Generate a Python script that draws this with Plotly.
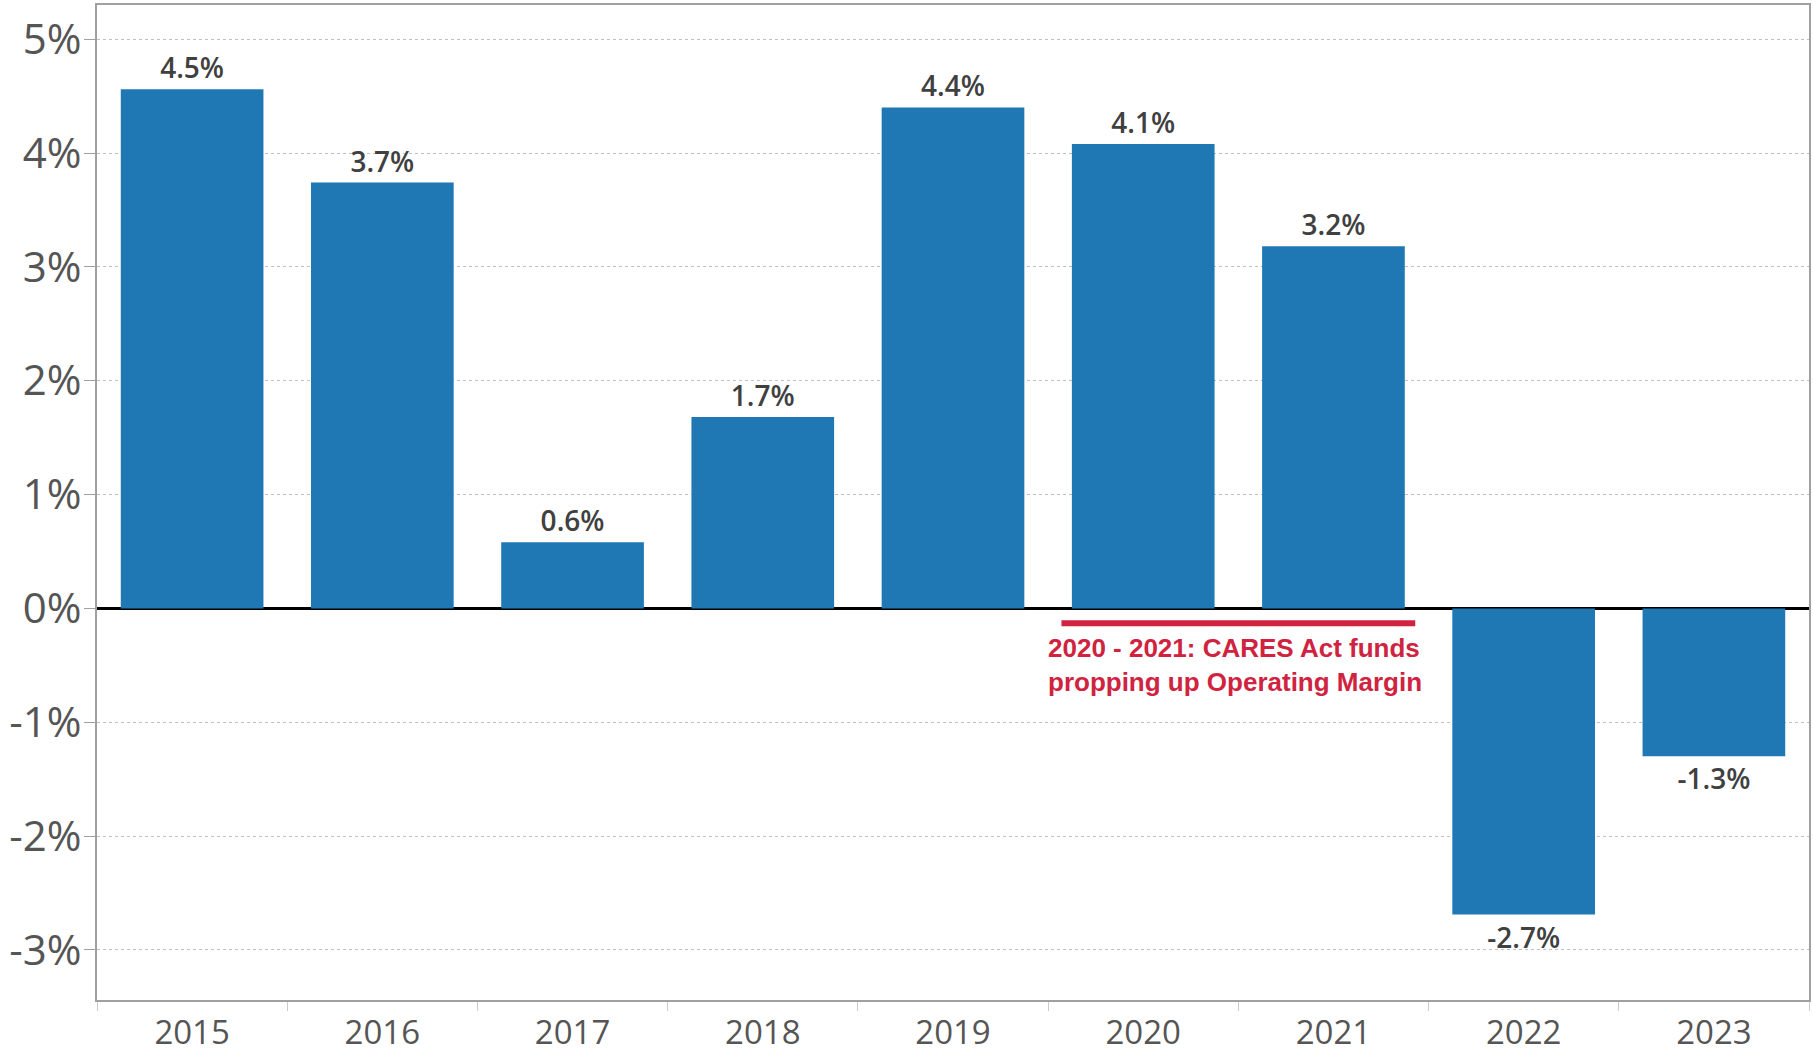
import plotly.graph_objects as go

years = ["2015", "2016", "2017", "2018", "2019", "2020", "2021", "2022", "2023"]
margin_values = [4.56, 3.74, 0.58, 1.68, 4.40, 4.08, 3.18, -2.69, -1.30]
value_labels = ["4.5%", "3.7%", "0.6%", "1.7%", "4.4%", "4.1%", "3.2%", "-2.7%", "-1.3%"]
y_ticks = [-3, -2, -1, 0, 1, 2, 3, 4, 5]
y_tick_labels = ["-3%", "-2%", "-1%", "0%", "1%", "2%", "3%", "4%", "5%"]
note_text = "2020 - 2021: CARES Act funds<br>propping up Operating Margin"

fig = go.Figure()
fig.add_trace(go.Bar(
    x=years, y=margin_values,
    marker=dict(color="#1f77b4", line=dict(width=0)),
    text=value_labels, textposition="outside",
    textfont=dict(family="Open Sans", size=28, color="#404040", weight=600),
    cliponaxis=False,
))

# CARES Act bracket line and note
fig.add_shape(type="line", xref="x", yref="y",
              x0=4.57, x1=6.43, y0=-0.13, y1=-0.13,
              line=dict(color="#d0233f", width=6))
fig.add_annotation(xref="x", yref="y", x=4.49, y=-0.5,
                   text=note_text, showarrow=False, xanchor="left", yanchor="middle",
                   align="left",
                   font=dict(family="Liberation Sans", size=26, color="#d0233f", weight="bold"))

fig.update_layout(
    width=1813, height=1054,
    margin=dict(l=97, r=4, t=5, b=54),
    paper_bgcolor="white", plot_bgcolor="white",
    bargap=0.25, showlegend=False,
    font=dict(family="Open Sans", color="#555555"),
)
fig.update_xaxes(
    type="category", tickson="boundaries", ticks="outside", ticklen=9,
    tickcolor="#cccccc", showline=True, mirror=True, linecolor="#a0a0a0", linewidth=2,
    showgrid=False, tickfont=dict(size=33, color="#555555"), automargin=False,
    ticklabelstandoff=2,
)
fig.update_yaxes(
    range=[-3.44, 5.3], tickvals=y_ticks, ticktext=y_tick_labels,
    ticks="outside", ticklen=11, tickcolor="#a0a0a0",
    showline=True, mirror=True, linecolor="#a0a0a0", linewidth=2,
    showgrid=True, gridcolor="#c0c0c0", griddash="dot", gridwidth=1,
    zeroline=True, zerolinecolor="#000000", zerolinewidth=3,
    tickfont=dict(size=42, color="#555555"), automargin=False,
    ticklabelstandoff=-6,
)

fig.write_html("out.html", config={"displayModeBar": False},
               post_script="document.body.style.margin='0px';document.body.style.overflow='hidden';")
